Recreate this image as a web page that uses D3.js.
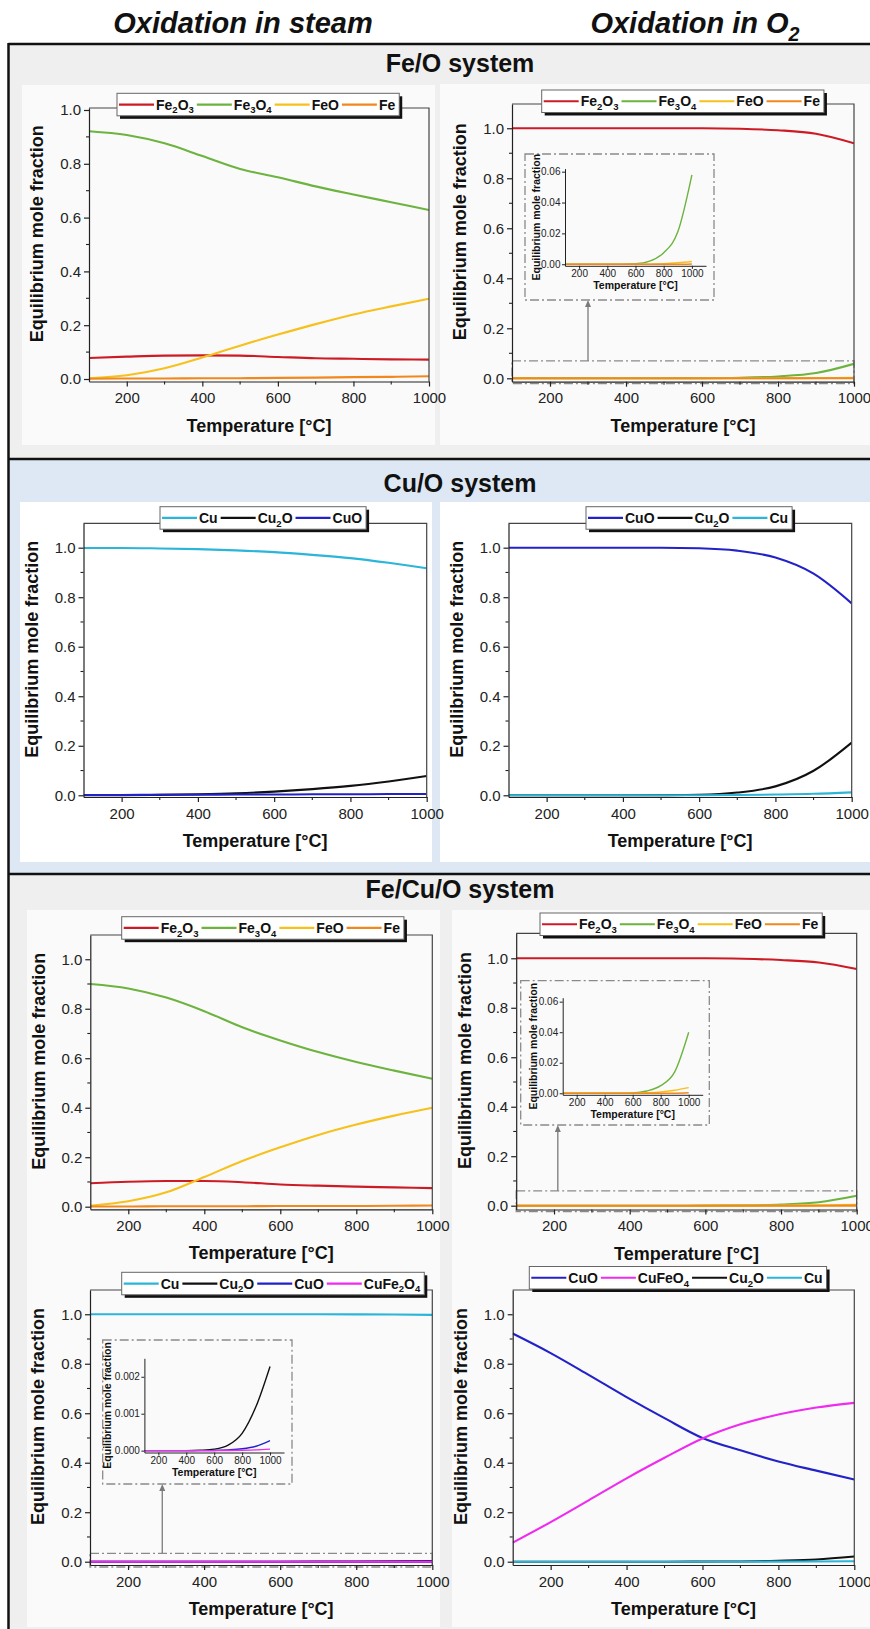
<!DOCTYPE html>
<html><head><meta charset="utf-8">
<script src="https://cdn.jsdelivr.net/npm/d3@7"></script>
<style>
body{margin:0;background:#fff;}
svg{display:block;font-family:"Liberation Sans",Arial,Helvetica,sans-serif;}
</style></head><body>
<svg id="c" width="870" height="1629"></svg>
<script>
// ---------------- DATA ----------------
const temps = [100,200,300,400,500,600,700,800,900,1000];
const xTickValues = [200,400,600,800,1000];
const xMinorValues = [300,500,700,900];
const yTickValues = [0,0.2,0.4,0.6,0.8,1.0];
const yMinorValues = [0.1,0.3,0.5,0.7,0.9];
const insetXTicks = [200,400,600,800,1000];
const insetYTicksFe = [0,0.02,0.04,0.06];
const insetYTicksCu = [0,0.001,0.002];

const columnTitles = ["Oxidation in steam","Oxidation in O2"];
const sectionTitles = ["Fe/O system","Cu/O system","Fe/Cu/O system"];

// Fe/O, steam
const feoSteam_Fe2O3 = [0.078,0.083,0.087,0.088,0.087,0.082,0.077,0.075,0.073,0.072];
const feoSteam_Fe3O4 = [0.921,0.907,0.876,0.829,0.781,0.750,0.716,0.686,0.657,0.628];
const feoSteam_FeO   = [0.003,0.014,0.040,0.080,0.124,0.165,0.204,0.240,0.270,0.298];
const feoSteam_Fe    = [0.001,0.002,0.002,0.003,0.003,0.004,0.005,0.007,0.008,0.010];
// Fe/O, O2
const feoO2_Fe2O3 = [1.000,1.000,1.000,1.000,1.000,1.000,0.998,0.992,0.978,0.940];
const feoO2_Fe3O4 = [0,0,0,0,0,0.0003,0.002,0.0075,0.021,0.058];
const feoO2_FeO   = [0,0,0,0,0,0,0.0001,0.0004,0.001,0.0018];
const feoO2_Fe    = [0,0,0,0,0,0,0,0,0,0.0002];
// Cu/O, steam
const cuoSteam_Cu   = [0.999,0.999,0.997,0.994,0.989,0.982,0.971,0.958,0.939,0.917];
const cuoSteam_Cu2O = [0,0.0003,0.0015,0.004,0.008,0.015,0.025,0.038,0.056,0.078];
const cuoSteam_CuO  = [0.001,0.001,0.002,0.002,0.003,0.003,0.004,0.004,0.005,0.005];
// Cu/O, O2
const cuoO2_CuO  = [1.0,1.0,1.0,1.0,1.0,0.998,0.988,0.960,0.895,0.775];
const cuoO2_Cu2O = [0,0,0,0,0.0005,0.002,0.011,0.036,0.099,0.213];
const cuoO2_Cu   = [0,0,0,0,0,0.0002,0.001,0.003,0.006,0.012];
// Fe/Cu/O, steam (Fe species)
const fcoSteam_Fe2O3 = [0.095,0.101,0.104,0.104,0.099,0.090,0.085,0.081,0.078,0.075];
const fcoSteam_Fe3O4 = [0.900,0.882,0.845,0.790,0.725,0.672,0.625,0.585,0.550,0.517];
const fcoSteam_FeO   = [0.004,0.022,0.058,0.120,0.185,0.240,0.290,0.332,0.368,0.400];
const fcoSteam_Fe    = [0.001,0.001,0.002,0.002,0.002,0.003,0.003,0.003,0.004,0.005];
// Fe/Cu/O, O2 (Fe species)
const fcoO2_Fe2O3 = [1.0,1.0,1.0,1.0,1.0,1.0,0.998,0.993,0.983,0.957];
const fcoO2_Fe3O4 = [0,0,0,0,0,0.0002,0.0015,0.005,0.014,0.040];
const fcoO2_FeO   = [0,0,0,0,0,0.0001,0.0003,0.0008,0.002,0.0037];
const fcoO2_Fe    = [0,0,0,0,0,0,0,0,0,0.0003];
// Fe/Cu/O, steam (Cu species)
const fcoSteam_Cu      = [1.0,1.0,1.0,1.0,1.0,0.99995,0.9998,0.9994,0.9987,0.9974];
const fcoSteam_Cu2O    = [0,0,0,0,0.00001,0.00004,0.00015,0.00047,0.0012,0.00228];
const fcoSteam_CuO     = [0,0,0,0,0,0.000005,0.00002,0.00005,0.00012,0.00027];
const fcoSteam_CuFe2O4 = [0,0,0,0,0,0,0.000005,0.00001,0.00002,0.00004];
// Fe/Cu/O, O2 (Cu species)
const fcoO2_CuO    = [0.922,0.843,0.755,0.665,0.580,0.500,0.450,0.405,0.368,0.332];
const fcoO2_CuFeO4 = [0.077,0.160,0.248,0.337,0.420,0.498,0.555,0.595,0.623,0.642];
const fcoO2_Cu2O   = [0,0,0,0,0,0.0005,0.001,0.004,0.009,0.021];
const fcoO2_Cu     = [0,0,0,0,0,0,0,0.0005,0.001,0.002];

// ---------------- STYLE ----------------
const C = {Fe2O3:"#cc1b24", Fe3O4:"#6db33f", FeO:"#f6c11c", Fe:"#f0881e",
           Cu:"#2bb5d8", Cu2O:"#111111", CuO:"#2222c8", CuFe:"#ee2bee"};
const FONT = '"Liberation Sans",Arial,Helvetica,sans-serif';

const panels = [
 {id:"A", left:89, right:429, top:108, bottom:381.5, yDom:[-0.0093,1.0074], legend:[117,93.3],
  series:[["Fe2O3",feoSteam_Fe2O3,C.Fe2O3],["Fe3O4",feoSteam_Fe3O4,C.Fe3O4],["FeO",feoSteam_FeO,C.FeO],["Fe",feoSteam_Fe,C.Fe]]},
 {id:"B", left:512, right:854, top:104, bottom:381.7, yDom:[-0.0136,1.097], legend:[541.7,90],
  series:[["Fe2O3",feoO2_Fe2O3,C.Fe2O3],["Fe3O4",feoO2_Fe3O4,C.Fe3O4],["FeO",feoO2_FeO,C.FeO],["Fe",feoO2_Fe,C.Fe]],
  inset:{box:[525,154,714,300], left:565, right:706, top:168.6, bottom:265.8, yDom:[-0.001,0.062],
         yTicks:insetYTicksFe, fmt:".2f", ytitleX:536, zoomTop:0.07, arrowT:300}},
 {id:"C", left:83.5, right:426.7, top:523.3, bottom:797, yDom:[-0.0069,1.0985], legend:[160,506.7],
  series:[["Cu",cuoSteam_Cu,C.Cu],["Cu2O",cuoSteam_Cu2O,C.Cu2O],["CuO",cuoSteam_CuO,C.CuO]]},
 {id:"D", left:508.5, right:851.7, top:523.3, bottom:797, yDom:[-0.0069,1.0985], legend:[586,506.7],
  series:[["CuO",cuoO2_CuO,C.CuO],["Cu2O",cuoO2_Cu2O,C.Cu2O],["Cu",cuoO2_Cu,C.Cu]]},
 {id:"E", left:90.3, right:432.3, top:935, bottom:1209.3, yDom:[-0.0105,1.098], legend:[121.7,916.7],
  series:[["Fe2O3",fcoSteam_Fe2O3,C.Fe2O3],["Fe3O4",fcoSteam_Fe3O4,C.Fe3O4],["FeO",fcoSteam_FeO,C.FeO],["Fe",fcoSteam_Fe,C.Fe]]},
 {id:"F", left:516.2, right:856.7, top:933.3, bottom:1209.5, yDom:[-0.0154,1.101], legend:[540,913],
  series:[["Fe2O3",fcoO2_Fe2O3,C.Fe2O3],["Fe3O4",fcoO2_Fe3O4,C.Fe3O4],["FeO",fcoO2_FeO,C.FeO],["Fe",fcoO2_Fe,C.Fe]],
  inset:{box:[520.7,980.7,709.3,1125], left:562.7, right:702.7, top:997.7, bottom:1094.8, yDom:[-0.001,0.0626],
         yTicks:insetYTicksFe, fmt:".2f", ytitleX:533.3, zoomTop:0.06, arrowT:210}},
 {id:"G", left:90, right:432.3, top:1290, bottom:1565, yDom:[-0.0133,1.098], legend:[121.7,1272.3],
  series:[["Cu",fcoSteam_Cu,C.Cu],["Cu2O",fcoSteam_Cu2O,C.Cu2O],["CuO",fcoSteam_CuO,C.CuO],["CuFe2O4",fcoSteam_CuFe2O4,C.CuFe]],
  inset:{box:[102.7,1340,292,1484], left:144.4, right:284, top:1358.3, bottom:1452.5, yDom:[-0.00005,0.0025],
         yTicks:insetYTicksCu, fmt:".3f", ytitleX:107.3, zoomTop:0.034, arrowT:290}},
 {id:"H", left:512.7, right:854.3, top:1290, bottom:1565, yDom:[-0.0133,1.098], legend:[529.3,1266.5],
  series:[["CuO",fcoO2_CuO,C.CuO],["CuFeO4",fcoO2_CuFeO4,C.CuFe],["Cu2O",fcoO2_Cu2O,C.Cu2O],["Cu",fcoO2_Cu,C.Cu]]}
];

const svg = d3.select("#c");

function richText(sel, str, fs){
  const parts = str.match(/\d+|\D+/g);
  let inSub = false;
  parts.forEach(p=>{
    const isSub = /^\d+$/.test(p);
    const t = sel.append("tspan").text(p);
    if(isSub){ t.attr("font-size",fs*0.68).attr("dy",fs*0.28); inSub=true; }
    else { t.attr("font-size",fs); if(inSub){ t.attr("dy",-fs*0.28); inSub=false; } }
  });
}

function styleAxis(ax, fs, sw){
  ax.attr("font-family",FONT);
  ax.select(".domain").attr("stroke","#222").attr("stroke-width",sw);
  ax.selectAll(".tick line").attr("stroke","#222").attr("stroke-width",sw);
  ax.selectAll(".tick text").attr("font-size",fs).attr("fill","#222");
}

// ---------------- BACKGROUND / FRAME ----------------
svg.append("rect").attr("width",870).attr("height",1629).attr("fill","#fff");
const sections = [
  {y0:44,y1:459,fill:"#efefef",ty:72},
  {y0:459,y1:874,fill:"#dde8f4",ty:492},
  {y0:874,y1:1629,fill:"#efefef",ty:898}
];
sections.forEach(s=>{
  svg.append("rect").attr("x",8.5).attr("y",s.y0).attr("width",870-8.5).attr("height",s.y1-s.y0).attr("fill",s.fill);
});
const panelBgs = [[22,85,435,445,"#fafafa"],[440,84,870,445,"#fafafa"],
                  [20,502,432,862,"#ffffff"],[440,502,870,862,"#ffffff"],
                  [27,910,440,1627,"#fafafa"],[452,910,870,1627,"#fafafa"]];
panelBgs.forEach(b=>{
  svg.append("rect").attr("x",b[0]).attr("y",b[1]).attr("width",b[2]-b[0]).attr("height",b[3]-b[1]).attr("fill",b[4]);
});
sections.forEach((s,i)=>{
  svg.append("line").attr("x1",8.5).attr("x2",870).attr("y1",s.y0).attr("y2",s.y0)
    .attr("stroke","#111").attr("stroke-width",2.5);
  svg.append("text").attr("x",460).attr("y",s.ty).attr("text-anchor","middle")
    .attr("font-size",25).attr("font-weight","bold").attr("fill","#111").text(sectionTitles[i]);
});
svg.append("line").attr("x1",8.5).attr("x2",8.5).attr("y1",43).attr("y2",1629)
  .attr("stroke","#111").attr("stroke-width",2.5);

// column titles
[[243,columnTitles[0]],[695,columnTitles[1]]].forEach(([cx,t])=>{
  const tx = svg.append("text").attr("x",cx).attr("y",33).attr("text-anchor","middle")
    .attr("font-size",29).attr("font-weight","bold").attr("font-style","italic").attr("fill","#111");
  richText(tx,t,29);
});

// ---------------- PANELS ----------------
panels.forEach(p=>{
  const g = svg.append("g");
  const x = d3.scaleLinear().domain([100,1000]).range([p.left,p.right]);
  const y = d3.scaleLinear().domain(p.yDom).range([p.bottom,p.top]);
  const clipId = "clip"+p.id;
  svg.append("clipPath").attr("id",clipId).append("rect")
    .attr("x",p.left).attr("y",p.top-2).attr("width",p.right-p.left).attr("height",p.bottom-p.top+2);

  // zoom indicator + arrow
  if(p.inset){
    const ins = p.inset;
    const yz = y(ins.zoomTop);
    g.append("rect").attr("x",p.left).attr("y",yz).attr("width",p.right-p.left).attr("height",p.bottom+2-yz)
      .attr("fill","none").attr("stroke","#8a8a8a").attr("stroke-width",1.3).attr("stroke-dasharray","9,3,2,3");
    const ax = x(ins.arrowT);
    g.append("line").attr("x1",ax).attr("x2",ax).attr("y1",yz).attr("y2",ins.box[3]+5)
      .attr("stroke","#7a7a7a").attr("stroke-width",1.3);
    g.append("path").attr("d",`M${ax},${ins.box[3]}l-3,7h6z`).attr("fill","#7a7a7a");
  }

  // data lines
  const line = d3.line().x((d,i)=>x(temps[i])).y(d=>y(d)).curve(d3.curveMonotoneX);
  g.append("g").attr("clip-path",`url(#${clipId})`).selectAll("path").data(p.series).join("path")
    .attr("d",s=>line(s[1])).attr("fill","none").attr("stroke",s=>s[2]).attr("stroke-width",2.1);

  // box
  g.append("path").attr("d",`M${p.left},${p.top}H${p.right}V${p.bottom}`)
    .attr("fill","none").attr("stroke","#444").attr("stroke-width",1.2);
  // axes
  const axB = g.append("g").attr("transform",`translate(0,${p.bottom})`)
    .call(d3.axisBottom(x).tickValues(xTickValues).tickSize(5).tickPadding(6).tickSizeOuter(0).tickFormat(d3.format("d")));
  styleAxis(axB,15,1.2);
  const axL = g.append("g").attr("transform",`translate(${p.left},0)`)
    .call(d3.axisLeft(y).tickValues(yTickValues).tickSize(5).tickPadding(3).tickSizeOuter(0).tickFormat(d3.format(".1f")));
  styleAxis(axL,15,1.2);
  g.selectAll(null).data(xMinorValues).join("line")
    .attr("x1",d=>x(d)).attr("x2",d=>x(d)).attr("y1",p.bottom).attr("y2",p.bottom+3)
    .attr("stroke","#222").attr("stroke-width",1.1);
  g.selectAll(null).data(yMinorValues).join("line")
    .attr("y1",d=>y(d)).attr("y2",d=>y(d)).attr("x1",p.left).attr("x2",p.left-3)
    .attr("stroke","#222").attr("stroke-width",1.1);

  // axis titles
  g.append("text").attr("x",(p.left+p.right)/2).attr("y",p.bottom+50).attr("text-anchor","middle")
    .attr("font-size",18).attr("font-weight","bold").attr("fill","#111").text("Temperature [°C]");
  g.append("text").attr("transform",`translate(${p.left-52},${(p.top+p.bottom)/2-11}) rotate(-90)`)
    .attr("dy","0.35em").attr("text-anchor","middle")
    .attr("font-size",18).attr("font-weight","bold").attr("fill","#111").text("Equilibrium mole fraction");

  // legend
  const lg = g.append("g").attr("transform",`translate(${p.legend[0]},${p.legend[1]})`);
  const LH = 22.5, LL = 35, FS = 14;
  const shadow = lg.append("rect").attr("x",3).attr("y",3).attr("height",LH).attr("fill","#111");
  const box = lg.append("rect").attr("x",0).attr("y",0).attr("height",LH).attr("fill","#fff")
    .attr("stroke","#666").attr("stroke-width",1);
  let cx = 2;
  p.series.forEach(s=>{
    lg.append("line").attr("x1",cx).attr("x2",cx+LL).attr("y1",LH/2).attr("y2",LH/2)
      .attr("stroke",s[2]).attr("stroke-width",2.2);
    const t = lg.append("text").attr("x",cx+LL+2).attr("y",LH/2+5).attr("font-size",FS)
      .attr("font-weight","bold").attr("fill","#111");
    richText(t,s[0],FS);
    cx = cx+LL+2+t.node().getComputedTextLength()+3;
  });
  const W = cx+1;
  shadow.attr("width",W); box.attr("width",W);

  // inset
  if(p.inset){
    const ins = p.inset;
    const ig = g.append("g");
    ig.append("rect").attr("x",ins.box[0]).attr("y",ins.box[1]).attr("width",ins.box[2]-ins.box[0])
      .attr("height",ins.box[3]-ins.box[1]).attr("fill","none").attr("stroke","#8a8a8a")
      .attr("stroke-width",1.3).attr("stroke-dasharray","9,3,2,3");
    const xi = d3.scaleLinear().domain([100,1100]).range([ins.left,ins.right]);
    const yi = d3.scaleLinear().domain(ins.yDom).range([ins.bottom,ins.top]);
    const cid = "iclip"+p.id;
    svg.append("clipPath").attr("id",cid).append("rect")
      .attr("x",ins.left).attr("y",ins.top).attr("width",ins.right-ins.left).attr("height",ins.bottom-ins.top+1);
    const il = d3.line().x((d,i)=>xi(temps[i])).y(d=>yi(d)).curve(d3.curveMonotoneX);
    ig.append("g").attr("clip-path",`url(#${cid})`).selectAll("path").data(p.series).join("path")
      .attr("d",s=>il(s[1])).attr("fill","none").attr("stroke",s=>s[2]).attr("stroke-width",1.4);
    const iaB = ig.append("g").attr("transform",`translate(0,${ins.bottom})`)
      .call(d3.axisBottom(xi).tickValues(insetXTicks).tickSize(3).tickPadding(1.5).tickSizeOuter(0).tickFormat(d3.format("d")));
    styleAxis(iaB,10,1);
    const iaL = ig.append("g").attr("transform",`translate(${ins.left},0)`)
      .call(d3.axisLeft(yi).tickValues(ins.yTicks).tickSize(3).tickPadding(1.5).tickSizeOuter(0).tickFormat(d3.format(ins.fmt)));
    styleAxis(iaL,10,1);
    ig.append("text").attr("x",(ins.left+ins.right)/2).attr("y",ins.bottom+23).attr("text-anchor","middle")
      .attr("font-size",10.5).attr("font-weight","bold").attr("fill","#111").text("Temperature [°C]");
    ig.append("text").attr("transform",`translate(${ins.ytitleX},${(ins.top+ins.bottom)/2}) rotate(-90)`)
      .attr("dy","0.35em").attr("text-anchor","middle")
      .attr("font-size",10.5).attr("font-weight","bold").attr("fill","#111").text("Equilibrium mole fraction");
  }
});
</script>
</body></html>
